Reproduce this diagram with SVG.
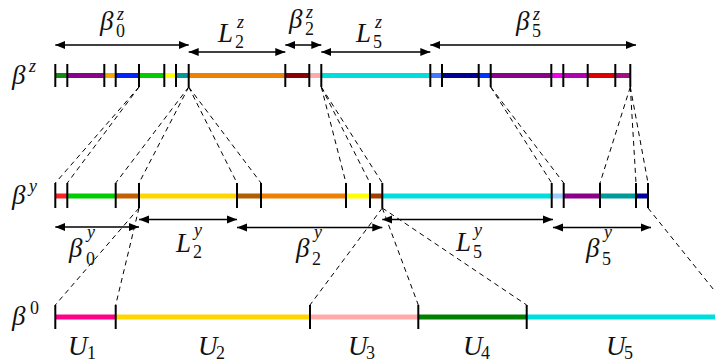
<svg xmlns="http://www.w3.org/2000/svg" width="715" height="363" viewBox="0 0 715 363">
<style>
.seg{stroke-width:5;fill:none}
.tk{stroke:#000;stroke-width:2}
.dash{stroke:#000;stroke-width:1;stroke-dasharray:5 4;fill:none}
.arr{stroke:#000;stroke-width:1.3;fill:none;marker-start:url(#ah);marker-end:url(#ah)}
text{font-family:"Liberation Serif","DejaVu Serif",serif;fill:#111}
.m{font-size:27px;font-style:italic}
.s{font-size:18px;font-style:italic}
.d{font-size:18px;font-style:normal}
</style>
<defs>
<marker id="ah" markerUnits="userSpaceOnUse" markerWidth="11" markerHeight="9" refX="10" refY="4.5" orient="auto-start-reverse">
<path d="M0,0.5 L10,4.5 L0,8.5 Z" fill="#000"/>
</marker>
</defs>

<g id="row-z">
<line class="seg" x1="55.3" y1="75.5" x2="67.3" y2="75.5" stroke="#138a13"/>
<line class="seg" x1="67.3" y1="75.5" x2="104.3" y2="75.5" stroke="#8b008b"/>
<line class="seg" x1="104.3" y1="75.5" x2="115.7" y2="75.5" stroke="#f0a800"/>
<line class="seg" x1="115.7" y1="75.5" x2="139" y2="75.5" stroke="#0022ff"/>
<line class="seg" x1="139" y1="75.5" x2="164.3" y2="75.5" stroke="#00cc00"/>
<line class="seg" x1="164.3" y1="75.5" x2="176" y2="75.5" stroke="#ffff00"/>
<line class="seg" x1="176" y1="75.5" x2="188.7" y2="75.5" stroke="#009999"/>
<line class="seg" x1="188.7" y1="75.5" x2="285.3" y2="75.5" stroke="#f08000"/>
<line class="seg" x1="285.3" y1="75.5" x2="309.3" y2="75.5" stroke="#8b0000"/>
<line class="seg" x1="309.3" y1="75.5" x2="321.3" y2="75.5" stroke="#ffaaaa"/>
<line class="seg" x1="321.3" y1="75.5" x2="430.3" y2="75.5" stroke="#00dddd"/>
<line class="seg" x1="430.3" y1="75.5" x2="442" y2="75.5" stroke="#4477ff"/>
<line class="seg" x1="442" y1="75.5" x2="478.7" y2="75.5" stroke="#000090"/>
<line class="seg" x1="478.7" y1="75.5" x2="490.7" y2="75.5" stroke="#0033ff"/>
<line class="seg" x1="490.7" y1="75.5" x2="551.3" y2="75.5" stroke="#8b008b"/>
<line class="seg" x1="551.3" y1="75.5" x2="563.3" y2="75.5" stroke="#ee00ee"/>
<line class="seg" x1="563.3" y1="75.5" x2="587.7" y2="75.5" stroke="#b000b0"/>
<line class="seg" x1="587.7" y1="75.5" x2="615.3" y2="75.5" stroke="#dd0000"/>
<line class="seg" x1="615.3" y1="75.5" x2="630.3" y2="75.5" stroke="#a01080"/>
<g class="tk">
<line x1="55.3" y1="64" x2="55.3" y2="87"/><line x1="67.3" y1="64" x2="67.3" y2="87"/>
<line x1="104.3" y1="64" x2="104.3" y2="87"/><line x1="115.7" y1="64" x2="115.7" y2="87"/>
<line x1="139" y1="64" x2="139" y2="87"/><line x1="164.3" y1="64" x2="164.3" y2="87"/>
<line x1="176" y1="64" x2="176" y2="87"/><line x1="188.7" y1="64" x2="188.7" y2="87"/>
<line x1="285.3" y1="64" x2="285.3" y2="87"/><line x1="309.3" y1="64" x2="309.3" y2="87"/>
<line x1="321.3" y1="64" x2="321.3" y2="87"/><line x1="430.3" y1="64" x2="430.3" y2="87"/>
<line x1="442" y1="64" x2="442" y2="87"/><line x1="478.7" y1="64" x2="478.7" y2="87"/>
<line x1="490.7" y1="64" x2="490.7" y2="87"/><line x1="551.3" y1="64" x2="551.3" y2="87"/>
<line x1="563.3" y1="64" x2="563.3" y2="87"/><line x1="587.7" y1="64" x2="587.7" y2="87"/>
<line x1="615.3" y1="64" x2="615.3" y2="87"/><line x1="630.3" y1="64" x2="630.3" y2="87"/>
</g>
<text class="m" x="12" y="84">β</text><text class="s" x="29" y="72">z</text>
</g>

<g id="row-y">
<line class="seg" x1="55.3" y1="196" x2="67.3" y2="196" stroke="#ff2020"/>
<line class="seg" x1="67.3" y1="196" x2="115.7" y2="196" stroke="#00cc00"/>
<line class="seg" x1="115.7" y1="196" x2="139" y2="196" stroke="#c06000"/>
<line class="seg" x1="139" y1="196" x2="237" y2="196" stroke="#ffd700"/>
<line class="seg" x1="237" y1="196" x2="261" y2="196" stroke="#b06000"/>
<line class="seg" x1="261" y1="196" x2="346" y2="196" stroke="#f08000"/>
<line class="seg" x1="346" y1="196" x2="370" y2="196" stroke="#ffff00"/>
<line class="seg" x1="370" y1="196" x2="382.3" y2="196" stroke="#a04000"/>
<line class="seg" x1="382.3" y1="196" x2="551.7" y2="196" stroke="#00dddd"/>
<line class="seg" x1="551.7" y1="196" x2="563.7" y2="196" stroke="#99ccff"/>
<line class="seg" x1="563.7" y1="196" x2="600" y2="196" stroke="#8b008b"/>
<line class="seg" x1="600" y1="196" x2="636" y2="196" stroke="#009999"/>
<line class="seg" x1="636" y1="196" x2="648" y2="196" stroke="#0000a0"/>
<g class="tk">
<line x1="55.3" y1="183" x2="55.3" y2="208"/><line x1="67.3" y1="183" x2="67.3" y2="208"/>
<line x1="115.7" y1="183" x2="115.7" y2="208"/><line x1="139" y1="183" x2="139" y2="208"/>
<line x1="237" y1="183" x2="237" y2="208"/><line x1="261" y1="183" x2="261" y2="208"/>
<line x1="346" y1="183" x2="346" y2="208"/><line x1="370" y1="183" x2="370" y2="208"/>
<line x1="382.3" y1="183" x2="382.3" y2="208"/><line x1="551.7" y1="183" x2="551.7" y2="208"/>
<line x1="563.7" y1="183" x2="563.7" y2="208"/><line x1="600" y1="183" x2="600" y2="208"/>
<line x1="636" y1="183" x2="636" y2="208"/><line x1="648" y1="183" x2="648" y2="208"/>
</g>
<text class="m" x="12" y="204">β</text><text class="s" x="29" y="192">y</text>
</g>

<g id="row-0">
<line class="seg" x1="55.3" y1="317" x2="115.7" y2="317" stroke="#ff0088"/>
<line class="seg" x1="115.7" y1="317" x2="310" y2="317" stroke="#ffd700"/>
<line class="seg" x1="310" y1="317" x2="418.3" y2="317" stroke="#ffaaaa"/>
<line class="seg" x1="418.3" y1="317" x2="526.7" y2="317" stroke="#008000"/>
<line class="seg" x1="526.7" y1="317" x2="716" y2="317" stroke="#00dddd"/>
<g class="tk">
<line x1="55.3" y1="305" x2="55.3" y2="329"/><line x1="115.7" y1="305" x2="115.7" y2="329"/>
<line x1="310" y1="305" x2="310" y2="329"/><line x1="418.3" y1="305" x2="418.3" y2="329"/>
<line x1="526.7" y1="305" x2="526.7" y2="329"/>
</g>
<text class="m" x="12" y="325">β</text><text class="d" x="30" y="314">0</text>
<text class="m" x="68" y="355">U</text><text class="d" x="87" y="359">1</text>
<text class="m" x="198" y="355">U</text><text class="d" x="216" y="359">2</text>
<text class="m" x="348" y="355">U</text><text class="d" x="366" y="359">3</text>
<text class="m" x="463" y="355">U</text><text class="d" x="481" y="359">4</text>
<text class="m" x="606" y="355">U</text><text class="d" x="624" y="359">5</text>
</g>

<g id="measures">
<line class="arr" x1="55.3" y1="45" x2="188.7" y2="45"/>
<line class="arr" x1="188.7" y1="52" x2="285.3" y2="52"/>
<line class="arr" x1="285.3" y1="45" x2="321.3" y2="45"/>
<line class="arr" x1="321.3" y1="52" x2="430.3" y2="52"/>
<line class="arr" x1="430.3" y1="45" x2="636" y2="45"/>
<line class="arr" x1="55.3" y1="227" x2="139" y2="227"/>
<line class="arr" x1="139" y1="219.5" x2="237" y2="219.5"/>
<line class="arr" x1="237" y1="227.5" x2="382.3" y2="227.5"/>
<line class="arr" x1="382.3" y1="219.5" x2="553" y2="219.5"/>
<line class="arr" x1="553" y1="227.5" x2="651" y2="227.5"/>
<text class="m" x="100" y="30">β</text><text class="s" x="117" y="20">z</text><text class="d" x="116" y="37">0</text>
<text class="m" x="218" y="42">L</text><text class="s" x="237" y="28">z</text><text class="d" x="235" y="48">2</text>
<text class="m" x="289" y="28">β</text><text class="s" x="306" y="18">z</text><text class="d" x="305" y="35">2</text>
<text class="m" x="356" y="42">L</text><text class="s" x="375" y="28">z</text><text class="d" x="373" y="48">5</text>
<text class="m" x="516" y="30">β</text><text class="s" x="533" y="20">z</text><text class="d" x="532" y="37">5</text>
<text class="m" x="69" y="257">β</text><text class="s" x="87" y="238">y</text><text class="d" x="86" y="265">0</text>
<text class="m" x="176" y="252">L</text><text class="s" x="194" y="236">y</text><text class="d" x="193" y="258">2</text>
<text class="m" x="296" y="257">β</text><text class="s" x="314" y="238">y</text><text class="d" x="312" y="265">2</text>
<text class="m" x="456" y="251">L</text><text class="s" x="474" y="236">y</text><text class="d" x="473" y="258">5</text>
<text class="m" x="586" y="257">β</text><text class="s" x="604" y="238">y</text><text class="d" x="602" y="265">5</text>
</g>

<g id="connectors">
<line class="dash" x1="139" y1="87" x2="55.3" y2="183"/>
<line class="dash" x1="139" y1="87" x2="67.3" y2="183"/>
<line class="dash" x1="188.7" y1="87" x2="115.7" y2="183"/>
<line class="dash" x1="188.7" y1="87" x2="139" y2="183"/>
<line class="dash" x1="188.7" y1="87" x2="237" y2="183"/>
<line class="dash" x1="188.7" y1="87" x2="261" y2="183"/>
<line class="dash" x1="321.3" y1="87" x2="346" y2="183"/>
<line class="dash" x1="321.3" y1="87" x2="370" y2="183"/>
<line class="dash" x1="321.3" y1="87" x2="382.3" y2="183"/>
<line class="dash" x1="490.7" y1="87" x2="551.7" y2="183"/>
<line class="dash" x1="490.7" y1="87" x2="563.7" y2="183"/>
<line class="dash" x1="630.3" y1="87" x2="600" y2="183"/>
<line class="dash" x1="630.3" y1="87" x2="636" y2="183"/>
<line class="dash" x1="630.3" y1="87" x2="648" y2="183"/>
<line class="dash" x1="139" y1="208" x2="55.3" y2="305"/>
<line class="dash" x1="139" y1="208" x2="115.7" y2="305"/>
<line class="dash" x1="382.3" y1="208" x2="310" y2="305"/>
<line class="dash" x1="382.3" y1="208" x2="418.3" y2="305"/>
<line class="dash" x1="382.3" y1="208" x2="526.7" y2="305"/>
<line class="dash" x1="648" y1="208" x2="726" y2="305"/>
</g>
</svg>
